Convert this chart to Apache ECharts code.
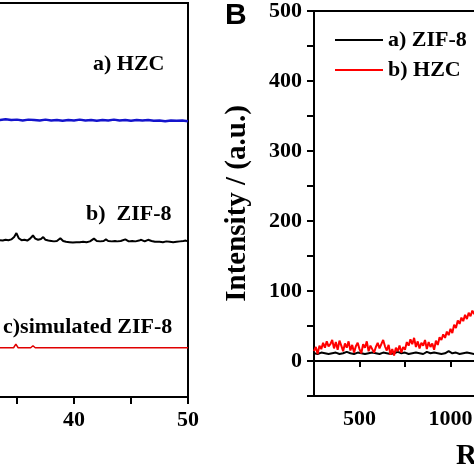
<!DOCTYPE html>
<html><head><meta charset="utf-8">
<script src="https://cdn.jsdelivr.net/npm/echarts@6/dist/echarts.min.js"></script>
<style>html,body{margin:0;padding:0;background:#fff}#c{width:474px;height:474px}</style>
</head><body><div id="c"></div>
<script>
// ---- Panel A: XRD patterns (2θ, offset intensity) ----
const xrdTicks = [30, 35, 40, 45, 50];
const hzcXrd = [[30,70.3],[31,70.4],[32,70.2],[33,70.4],[33.5,70.3],[34,70.5],[34.5,70.3],[35,70.4],[35.5,70.2],[36,70.4],[36.5,70.3],[37,70.2],[37.5,70.4],[38,70.2],[38.5,70.3],[39,70.1],[39.5,70.3],[40,70.2],[40.5,70.4],[41,70.2],[41.5,70.3],[42,70.1],[42.5,70.3],[43,70.2],[43.5,70.4],[44,70.2],[44.5,70.3],[45,70.1],[45.5,70.3],[46,70.2],[46.5,70.3],[47,70.1],[47.5,70.2],[48,70.0],[48.5,70.2],[49,70.1],[49.5,70.2],[50,70.0]];
const zif8Xrd = [[30,39.6],[31,39.7],[32,39.6],[32.5,39.8],[33,39.7],[33.5,39.8],[33.75,39.7],[34,39.9],[34.25,39.8],[34.5,40.0],[34.75,40.6],[34.95,41.6],[35.15,40.3],[35.4,39.8],[35.65,39.9],[35.9,39.7],[36.15,40.2],[36.4,41.0],[36.6,40.2],[36.85,39.9],[37.1,40.1],[37.3,40.6],[37.5,39.9],[37.75,39.7],[38,39.6],[38.25,39.5],[38.5,39.6],[38.8,40.3],[39.05,39.6],[39.3,39.4],[39.6,39.3],[39.9,39.2],[40.2,39.3],[40.5,39.3],[40.8,39.4],[41.1,39.3],[41.4,39.5],[41.75,40.2],[42,39.6],[42.3,39.5],[42.6,39.6],[42.8,40.0],[43,39.6],[43.3,39.5],[43.6,39.6],[43.8,39.5],[44.1,39.6],[44.5,40.0],[44.8,39.5],[45.1,39.6],[45.4,39.5],[45.7,39.7],[45.9,39.9],[46.2,39.5],[46.5,39.9],[46.8,39.6],[47.1,39.4],[47.5,39.4],[47.8,39.3],[48.1,39.5],[48.4,39.4],[48.7,39.3],[49,39.4],[49.3,39.5],[49.6,39.6],[49.8,39.7],[50,39.5]];
const simXrd = [[30,12.5],[32,12.5],[33,12.5],[34.7,12.5],[34.9,13.4],[35.1,12.5],[36.2,12.5],[36.4,13.0],[36.6,12.5],[37.15,12.5],[37.3,12.8],[37.45,12.5],[38.65,12.5],[38.8,12.8],[38.95,12.5],[41.65,12.5],[41.8,12.8],[41.95,12.5],[42.65,12.5],[42.8,12.7],[42.95,12.5],[44.35,12.5],[44.5,12.8],[44.65,12.5],[45.75,12.5],[45.9,12.7],[46.05,12.5],[46.35,12.5],[46.5,12.7],[46.65,12.5],[47.75,12.5],[47.9,12.8],[48.05,12.5],[49.55,12.5],[49.7,12.7],[49.85,12.5],[50,12.5]];
const xrdLabels = ['a) HZC', 'b)  ZIF-8', 'c)simulated ZIF-8'];

// ---- Panel B: Raman spectra ----
const ramanZif8X = [250,270,290,310,330,350,370,390,410,430,450,470,490,510,530,550,570,590,610,630,650,670,690,710,730,750,770,790,810,830,850,870,890,910,930,950,970,990,1010,1030,1050,1070,1090,1110,1130,1150];
const ramanZif8Y = [11,10,12,11,10,11,12,10,11,13,11,10,12,11,10,11,12,11,10,12,11,10,11,13,11,12,10,11,12,11,10,13,11,12,11,10,11,14,11,12,10,11,12,11,10,12];
const ramanHzcX = [250,260,270,280,290,300,310,320,330,340,350,360,370,380,390,400,410,420,430,440,450,460,470,480,490,500,510,520,530,540,550,560,570,580,590,600,610,620,630,640,650,660,670,680,690,700,710,720,730,740,750,760,770,780,790,800,810,820,830,840,850,860,870,880,890,900,910,920,930,940,950,960,970,980,990,1000,1010,1020,1030,1040,1050,1060,1070,1080,1090,1100,1110,1120,1130,1140];
const ramanHzcY = [14,20,10,22,17,26,19,28,21,24,30,18,27,16,29,22,14,25,19,28,15,23,12,21,26,17,11,24,19,28,14,22,17,12,20,26,18,24,30,21,15,23,9,17,8,19,14,22,12,20,16,27,22,31,24,33,20,28,18,26,22,30,17,27,20,25,16,29,23,34,30,38,33,42,37,46,40,52,47,58,53,62,57,66,60,69,64,72,67,73];
const ramanYTicks = [0, 100, 200, 300, 400, 500];
const ramanXTicks = [500, 1000];
const legendNames = ['a) ZIF-8', 'b) HZC'];

const serif = '"Liberation Serif","Times New Roman",serif';
const chart = echarts.init(document.getElementById('c'), null, {renderer: 'canvas'});
const zip = (xs, ys) => xs.map((x, i) => [x, ys[i]]);

const option = {
  animation: false,
  backgroundColor: '#fff',
  grid: [
    {left: -40, width: 228, top: 3, height: 394, show: true, borderColor: '#000', borderWidth: 2, backgroundColor: 'transparent', outerBoundsMode: 'none', containLabel: false},
    {left: 314, width: 318.5, top: 11, height: 385, show: true, borderColor: '#000', borderWidth: 2, backgroundColor: 'transparent', outerBoundsMode: 'none', containLabel: false}
  ],
  xAxis: [
    {gridIndex: 0, type: 'value', min: xrdTicks[0], max: xrdTicks[xrdTicks.length-1], interval: 5,
     axisLine: {lineStyle: {color: '#000', width: 2}}, splitLine: {show: false},
     axisTick: {inside: false, length: 7, lineStyle: {width: 2, color: '#000'}},
     axisLabel: {margin: 12, color: '#000', fontFamily: serif, fontWeight: 'bold', fontSize: 22,
       formatter: v => (v % 10 === 0 ? String(v) : '')}},
    {gridIndex: 1, type: 'value', min: 250, max: 2000, interval: 250,
     axisLine: {lineStyle: {color: '#000', width: 2}}, splitLine: {show: false},
     axisTick: {inside: false, length: 6, lineStyle: {width: 2, color: '#000'}},
     axisLabel: {margin: 12, color: '#000', fontFamily: serif, fontWeight: 'bold', fontSize: 22,
       formatter: v => (ramanXTicks.includes(v) ? String(v) : '')}}
  ],
  yAxis: [
    {gridIndex: 0, type: 'value', min: 0, max: 100, show: false},
    {gridIndex: 1, type: 'value', min: -50, max: 500, interval: 50,
     name: 'Intensity / (a.u.)', nameLocation: 'middle', nameGap: 62,
     nameTextStyle: {color: '#000', fontFamily: serif, fontWeight: 'bold', fontSize: 29},
     axisLine: {show: true, lineStyle: {color: '#000', width: 2}}, splitLine: {show: false},
     axisTick: {inside: false, length: 7, lineStyle: {width: 2, color: '#000'}},
     axisLabel: {margin: 12, color: '#000', fontFamily: serif, fontWeight: 'bold', fontSize: 22,
       formatter: v => (ramanYTicks.includes(v) ? String(v) : '')}}
  ],
  legend: {
    data: legendNames, left: 330, top: 24, orient: 'vertical', icon: 'rect',
    itemWidth: 48, itemHeight: 2, itemGap: 8,
    textStyle: {color: '#000', fontFamily: serif, fontWeight: 'bold', fontSize: 22, padding: [0,0,0,0]}
  },
  series: [
    {type: 'line', xAxisIndex: 0, yAxisIndex: 0, data: hzcXrd, showSymbol: false, lineStyle: {color: '#1414cc', width: 2.5}, itemStyle: {color: '#1414cc'}},
    {type: 'line', xAxisIndex: 0, yAxisIndex: 0, data: zif8Xrd, showSymbol: false, lineStyle: {color: '#000', width: 2}, itemStyle: {color: '#000'}},
    {type: 'line', xAxisIndex: 0, yAxisIndex: 0, data: simXrd, showSymbol: false, lineStyle: {color: '#e00000', width: 1.5}, itemStyle: {color: '#e00000'}},
    {name: legendNames[0], type: 'line', xAxisIndex: 1, yAxisIndex: 1, data: zip(ramanZif8X, ramanZif8Y), showSymbol: false, lineStyle: {color: '#000', width: 2}, itemStyle: {color: '#000'}},
    {name: legendNames[1], type: 'line', xAxisIndex: 1, yAxisIndex: 1, data: zip(ramanHzcX, ramanHzcY), showSymbol: false, lineStyle: {color: '#ff0000', width: 2}, itemStyle: {color: '#ff0000'}}
  ],
  graphic: [
    {type: 'text', left: 93, top: 53, style: {text: xrdLabels[0], fill: '#000', font: 'bold 22px ' + serif}},
    {type: 'text', left: 86, top: 203, style: {text: xrdLabels[1], fill: '#000', font: 'bold 22px ' + serif}},
    {type: 'text', left: 3, top: 316, style: {text: xrdLabels[2], fill: '#000', font: 'bold 22px ' + serif}},
    {type: 'text', left: 225, top: 1, style: {text: 'B', fill: '#000', font: 'bold 30px "Liberation Sans", Arial, sans-serif'}},
    {type: 'text', left: 456, top: 442, style: {text: 'Raman shift (cm\u207B\u00B9)', fill: '#000', font: 'bold 29px ' + serif}}
  ]
};
chart.setOption(option);
</script></body></html>
